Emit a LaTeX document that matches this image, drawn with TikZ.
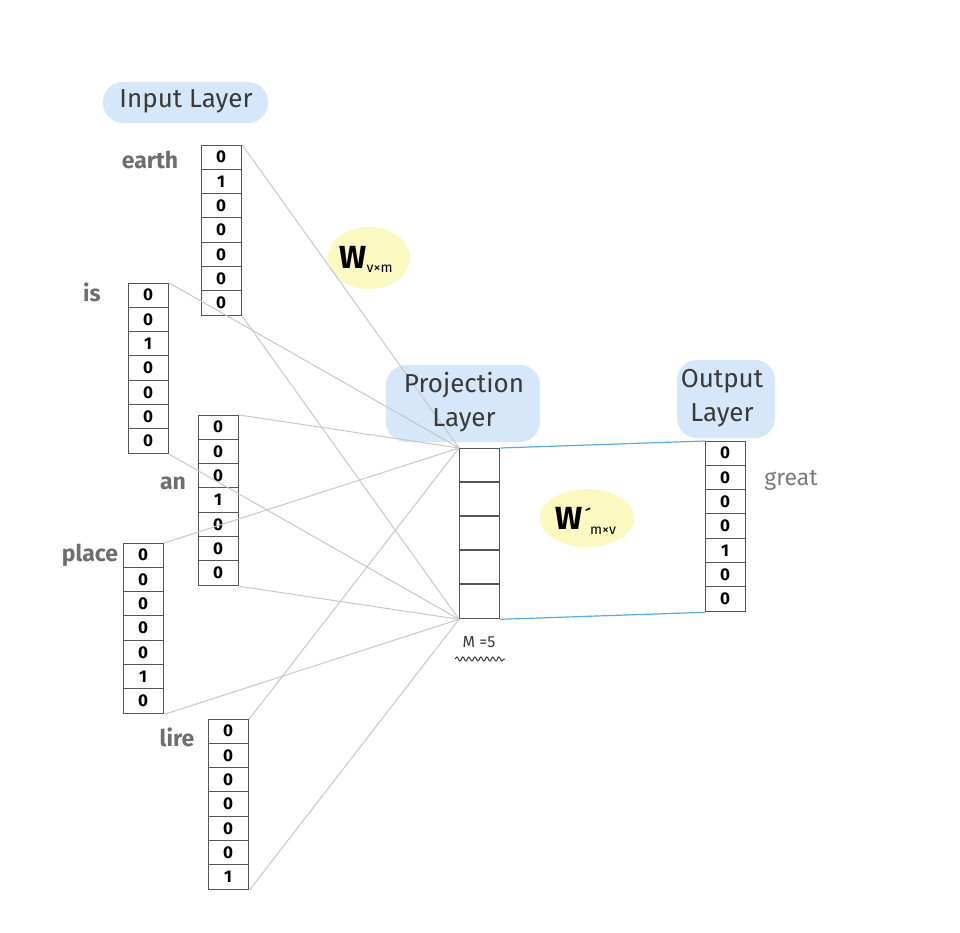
\documentclass[tikz,border=0pt]{standalone}
\usepackage{fontspec}
\setmainfont{Fira Sans}
\usetikzlibrary{calc,decorations.pathmorphing,shapes.geometric}
\definecolor{edgegray}{HTML}{C8C8C8}
\definecolor{boxline}{HTML}{555555}
\definecolor{blobblue}{HTML}{D5E7F9}
\definecolor{blobyellow}{HTML}{FBF8C2}
\definecolor{linkblue}{HTML}{5AAAE8}
\definecolor{labelgray}{HTML}{6E6E6E}
\definecolor{titleink}{HTML}{3A3A3A}
\tikzset{
  vecbox/.style={draw=boxline, line width=1.3pt, fill=white, minimum width=40pt, minimum height=170pt, inner sep=0pt, anchor=north west},
  cellline/.style={draw=boxline, line width=1.1pt},
  digit/.style={inner sep=0pt, font=\fontsize{17}{17}\selectfont\bfseries, text=black},
  edge/.style={draw=edgegray, line width=1pt},
  link/.style={draw=linkblue, line width=1.2pt},
  wordlabel/.style={font=\fontsize{23}{23}\selectfont\bfseries, text=labelgray},
  title/.style={font=\fontsize{26}{34}\selectfont, text=titleink, align=center},
  weight/.style={inner sep=0pt, text=black},
  blueblob/.style={fill=blobblue, rounded corners=20pt},
  yellowblob/.style={fill=blobyellow, ellipse, inner sep=0pt},
}
\newcommand\onehotvec[4]{%
  \node[vecbox] (#1) at (#2,#3) {};
  \foreach \dg [count=\ii] in {#4} {
    \node[digit] (#1-\ii) at ({#2+20},{#3+(\ii-0.5)*170/7}) {\dg};
  }
  \foreach \ii in {1,...,6} \draw[cellline] ({#2},{#3+\ii*170/7}) -- ++(40,0);
}
\begin{document}
\begin{tikzpicture}[x=1pt,y=-1pt]
\useasboundingbox[fill=white] (0,0) rectangle (960,933);
% highlight blobs
\fill[blueblob] (103,82) rectangle (268,123);
\fill[blueblob] (386,365) rectangle (540,442);
\fill[blueblob] (677,360) rectangle (775,438);
\node[yellowblob, minimum width=82pt, minimum height=62pt] (wblob) at (369,258) {};
\node[yellowblob, minimum width=95pt, minimum height=58pt] (wpblob) at (587,518) {};
% boxes
\node[vecbox] (proj) at (459,448) {};
\foreach \ii in {1,...,4} \draw[cellline] (459,{448+\ii*34}) -- ++(40,0);
\onehotvec{earth}{201}{145}{0,1,0,0,0,0,0}
\onehotvec{is}{128}{283}{0,0,1,0,0,0,0}
\onehotvec{an}{198}{415}{0,0,0,1,0,0,0}
\onehotvec{place}{123}{543}{0,0,0,0,0,1,0}
\onehotvec{lire}{208}{719}{0,0,0,0,0,0,1}
\onehotvec{out}{705}{441}{0,0,0,0,1,0,0}
% edges
\foreach \v in {earth,is,an,place,lire} {
  \draw[edge] (\v.north east) -- (proj.north west);
  \draw[edge] (\v.south east) -- (proj.south west);
}
\draw[link] (proj.north east) -- (out.north west);
\draw[link] (proj.south east) -- (out.south west);
% titles
\node[title] (tin) at (186,101) {Input Layer};
\node[title] (tproj) at (464,402) {Projection\\Layer};
\node[title] (tout) at (722,398) {Output\\Layer};
% word labels
\node[wordlabel] (learth) at (150,160) {earth};
\node[wordlabel] (lis) at (92,292) {is};
\node[wordlabel] (lan) at (173,483) {an};
\node[wordlabel] (lplace) at (90,555) {place};
\node[wordlabel] (llire) at (177,737) {lire};
\node[wordlabel, font=\fontsize{23}{23}\selectfont, text=labelgray!90] (lgreat) at (791,480) {great};
% weights
\node[weight] (wtext) at (366,259) {{\fontsize{32}{32}\selectfont\bfseries W}{\fontsize{14}{14}\selectfont\raisebox{-4pt}{v×m}}};
\node[weight] (wptext) at (586,521) {{\fontsize{32}{32}\selectfont\bfseries W}{\fontsize{22}{22}\selectfont\raisebox{4pt}{\kern1.5pt´}}\kern-1pt{\fontsize{14}{14}\selectfont\raisebox{-5pt}{m×v}}};
% M=5
\node[inner sep=0pt, text=titleink, font=\fontsize{16}{16}\selectfont] (mlabel) at (479,642) {M =5};
\coordinate (wavyA) at (455,659);
\coordinate (wavyB) at (505,659);
\draw[titleink, line width=1pt, decorate, decoration={snake, amplitude=2pt, segment length=6pt}] (wavyA) -- (wavyB);
\end{tikzpicture}
\end{document}
